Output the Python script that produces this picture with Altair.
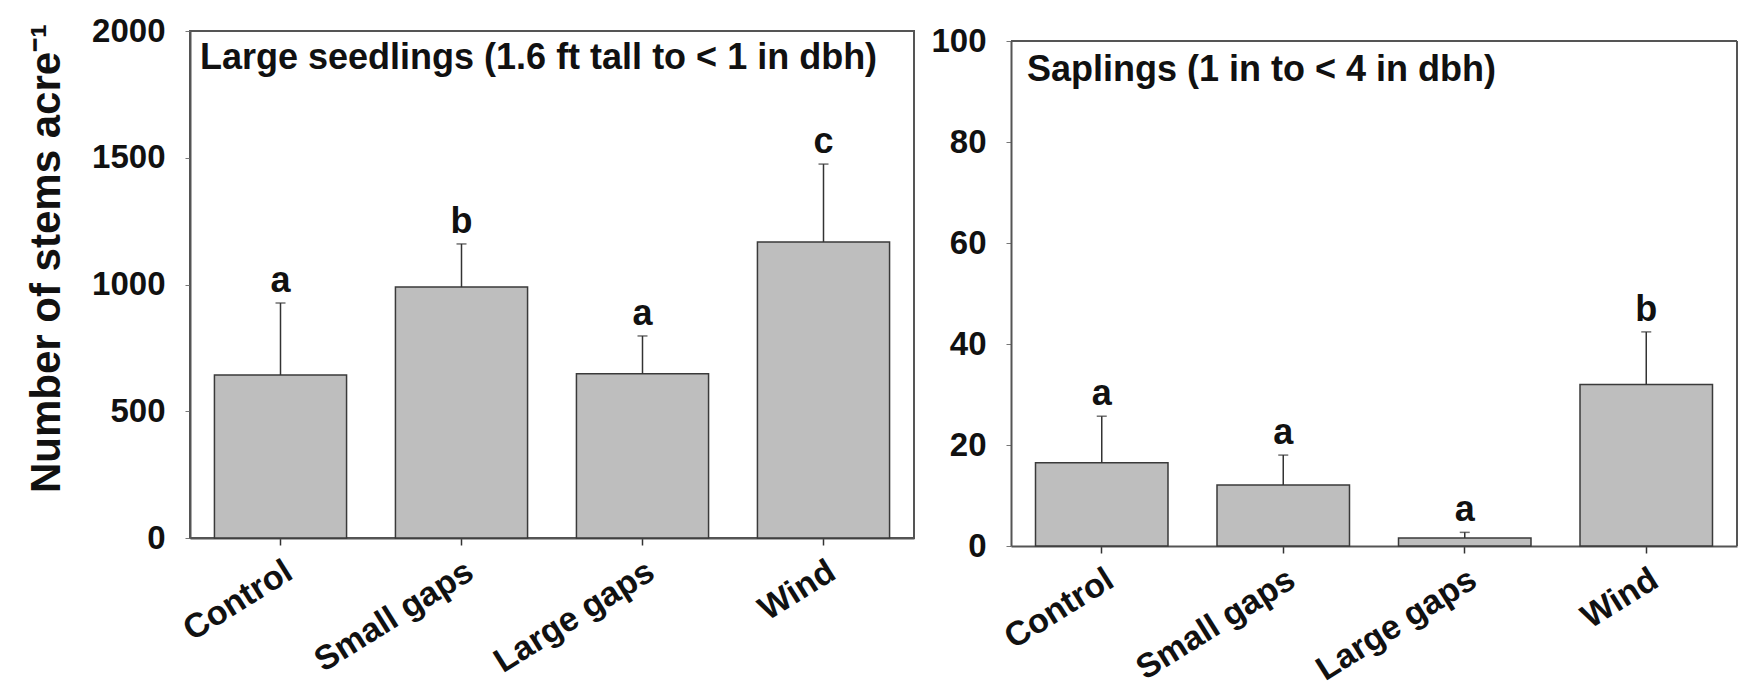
import altair as alt
import pandas as pd

categories = ["Control", "Small gaps", "Large gaps", "Wind"]

seedling_mean = [643, 990, 648, 1168]
seedling_se = [284, 170, 149, 307]
seedling_letters = ["a", "b", "a", "c"]
seedling_ticks = [0, 500, 1000, 1500, 2000]
seedling_title = "Large seedlings (1.6 ft tall to < 1 in dbh)"

sapling_mean = [16.5, 12.1, 1.6, 32.0]
sapling_se = [9.2, 5.9, 1.1, 10.4]
sapling_letters = ["a", "a", "a", "b"]
sapling_ticks = [0, 20, 40, 60, 80, 100]
sapling_title = "Saplings (1 in to < 4 in dbh)"

y_title = "Number of stems acre\u207b\u00b9"

FONT = "Liberation Sans"
INK = "#111111"
FRAME = "#555555"


def make_df(mean, se, letters):
    return pd.DataFrame({
        "cat": categories,
        "mean": mean,
        "upper": [m + s for m, s in zip(mean, se)],
        "letter": letters,
    })


def x_enc():
    return alt.X(
        "cat:N", sort=categories,
        scale=alt.Scale(paddingInner=0.27, paddingOuter=0.135),
        axis=alt.Axis(title=None, labelAngle=328, labelFontSize=34, labelFont=FONT,
                      labelFontWeight="bold", labelColor=INK, labelLimit=500, tickSize=7,
                      tickColor="#333333", tickWidth=1.5, labelPadding=9,
                      domainColor=FRAME, domainWidth=2),
    )


def panel(df, yscale, ticks, title, ytitle, width, height, title_x, title_y, extra=None):
    yaxis_kw = dict(values=ticks, format="d", grid=False, labelFontSize=33, labelFont=FONT,
                    labelFontWeight="bold", labelColor=INK, tickSize=5, tickColor="#777777",
                    labelPadding=20, domainColor=FRAME, domainWidth=2)
    if ytitle:
        yaxis_kw.update(title=ytitle, titleFont=FONT, titleFontSize=42, titleFontWeight="bold",
                        titleColor=INK, titlePadding=23, titleY=227)
    else:
        yaxis_kw.update(title=None)
    base = alt.Chart(df)
    bars = base.mark_bar(fill="#bebebe", stroke="#3a3a3a", strokeWidth=1.5).encode(
        x=x_enc(), y=alt.Y("mean:Q", scale=yscale, axis=alt.Axis(**yaxis_kw)))
    err = base.mark_rule(color="#333333", strokeWidth=1.5).encode(
        x=x_enc(), y="mean:Q", y2="upper:Q")
    cap = base.mark_tick(color="#333333", thickness=1.5, size=10).encode(
        x=x_enc(), y="upper:Q")
    lett = base.mark_text(font=FONT, fontWeight="bold", fontSize=36, baseline="bottom",
                          dy=-3, color=INK).encode(x=x_enc(), y="upper:Q", text="letter:N")
    ttl = alt.Chart(pd.DataFrame({"t": [title]})).mark_text(
        font=FONT, fontWeight="bold", fontSize=36, align="left", baseline="alphabetic",
        color=INK).encode(x=alt.value(title_x), y=alt.value(title_y), text="t:N")
    layers = [bars, err, cap, lett, ttl]
    if extra:
        layers += extra
    return alt.layer(*layers).properties(width=width, height=height)


seed_df = make_df(seedling_mean, seedling_se, seedling_letters)
sap_df = make_df(sapling_mean, sapling_se, sapling_letters)

left = panel(seed_df, alt.Scale(domain=[0, 2000], nice=False), seedling_ticks,
             seedling_title, y_title, 724, 507, 10, 38)

sap_scale = alt.Scale(domain=[0, 100], nice=False, range=[515, 10])
top_line = alt.Chart(sap_df).mark_rule(color=FRAME, strokeWidth=2).encode(y=alt.datum(100))
right_line = alt.Chart(sap_df).mark_rule(color=FRAME, strokeWidth=2).encode(
    x=alt.value(726), y=alt.datum(0), y2=alt.datum(100))

right = panel(sap_df, sap_scale, sapling_ticks, sapling_title, None, 726, 515, 16, 50,
              extra=[top_line, right_line]).properties(view=alt.ViewConfig(stroke="transparent"))

chart = alt.hconcat(left, right, spacing=14).properties(
    padding={"left": 16, "top": 6, "right": 0, "bottom": 0},
    background="white",
).configure_view(stroke=FRAME, strokeWidth=2)

chart.save("out.html", embed_options={"renderer": "svg", "actions": False})
